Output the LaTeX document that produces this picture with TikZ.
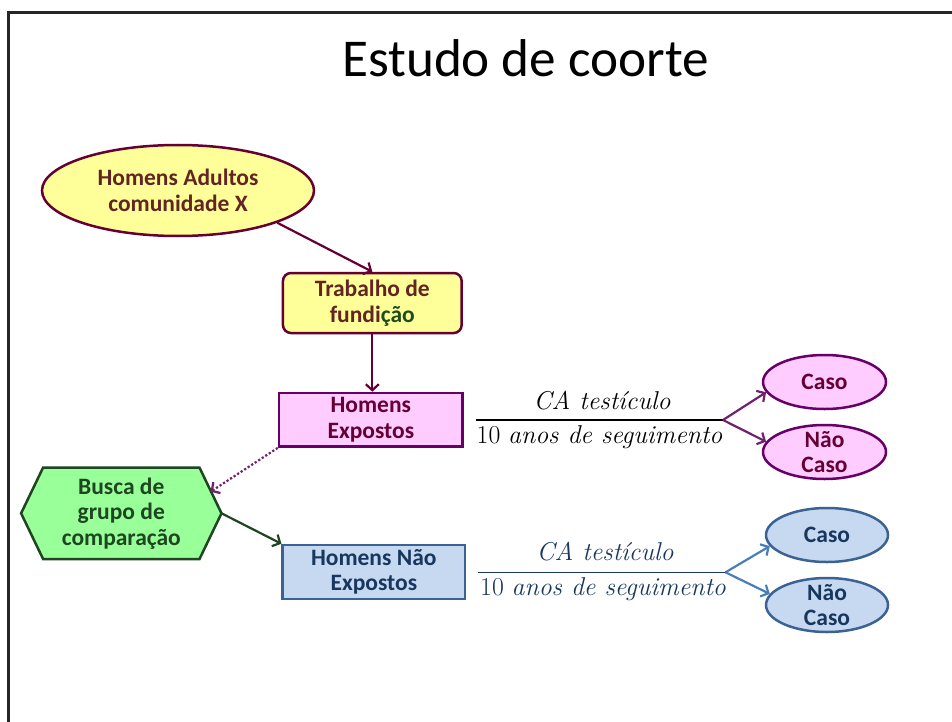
\documentclass[tikz,border=0pt]{standalone}
\usepackage{fontspec}
\setmainfont{Carlito}
\usetikzlibrary{arrows.meta,shapes.geometric}
\pgfdeclarelayer{background}
\pgfsetlayers{background,main}
\definecolor{yel}{HTML}{FFFF99}
\definecolor{maroonB}{HTML}{660033}
\definecolor{maroonT}{HTML}{632523}
\definecolor{dgreen}{HTML}{1E4D1E}
\definecolor{pinkF}{HTML}{FFCCFF}
\definecolor{purpB}{HTML}{660066}
\definecolor{purpA}{HTML}{702070}
\definecolor{greenF}{HTML}{99FF99}
\definecolor{greenB}{HTML}{1E4620}
\definecolor{blueF}{HTML}{C6D9F1}
\definecolor{blueB}{HTML}{3A6394}
\definecolor{blueA}{HTML}{4A7EBB}
\definecolor{navy}{HTML}{17375E}
\tikzset{
  lbl/.style={font=\fontsize{23.5}{25.5}\selectfont\bfseries, align=center, inner sep=0pt},
  ell/.style={lbl, ellipse, draw=maroonB, fill=yel, line width=2.5pt, text=maroonT},
  trabbox/.style={lbl, rectangle, rounded corners=8pt, draw=maroonB, fill=yel, line width=2.5pt, text=maroonT},
  expbox/.style={lbl, rectangle, draw=purpB, fill=pinkF, line width=2.5pt, text=maroonB},
  hexnode/.style={lbl, rectangle, text=greenB},
  hexshape/.style={draw=greenB, fill=greenF, line width=2.5pt, line join=miter},
  nexpbox/.style={lbl, rectangle, draw=blueB, fill=blueF, line width=2.5pt, text=navy},
  cpink/.style={lbl, ellipse, draw=purpB, fill=pinkF, line width=2.5pt, text=maroonB, minimum width=123pt, minimum height=54pt},
  cblue/.style={lbl, ellipse, draw=blueB, fill=blueF, line width=2.5pt, text=navy, minimum width=122pt, minimum height=54pt},
  tight/.style={inner sep=-10pt},
  arr/.style={line width=2.2pt, -{Straight Barb[length=6pt,width=13pt]}},
  frac/.style={font=\fontsize{25.8}{30}\fontfamily{lmr}\selectfont, inner sep=0pt, anchor=base},
}
\begin{document}
\begin{tikzpicture}[x=1pt,y=-1pt]
\useasboundingbox (0,0) rectangle (952,722);
\begin{pgfonlayer}{background}
\fill[white] (0,0) rectangle (952,722);
\end{pgfonlayer}
\draw[line width=2.5pt, black!85] (952,12.5) -- (8.5,12.5) -- (8.5,722);

\node[font=\fontsize{53.2}{60}\selectfont, anchor=base, inner sep=0pt] (title) at (525.5,77) {Estudo de coorte};

\node[ell, minimum width=272pt, minimum height=91pt] (adult) at (178,190.5) {Homens Adultos\\comunidade X};
\node[trabbox, minimum width=178.7pt, minimum height=60pt] (trab) at (372.3,303) {Trabalho de\\fundi\textcolor{dgreen}{ção}};
\node[expbox, minimum width=183.7pt, minimum height=53.7pt] (exp) at (370.8,419.8) {Homens\\Expostos};
\node[hexnode, minimum width=156pt, minimum height=91pt] (hex) at (121.3,513.3) {Busca de\\grupo de\\comparação};
\coordinate (hexE) at ([xshift=22pt]hex.east);
\coordinate (hexW) at ([xshift=-22pt]hex.west);
\begin{pgfonlayer}{background}
\draw[hexshape] (hex.north west) -- (hex.north east) -- (hexE) -- (hex.south east) -- (hex.south west) -- (hexW) -- cycle;
\end{pgfonlayer}
\node[nexpbox, minimum width=182.3pt, minimum height=54pt] (nexp) at (373.8,572) {Homens Não\\Expostos};

\node[cpink] (caso1) at (824.5,382) {Caso};
\node[cpink, tight] (nao1) at (824.5,452) {Não\\Caso};
\node[cblue] (caso2) at (827,535) {Caso};
\node[cblue, tight] (nao2) at (827,605) {Não\\Caso};

% fraction 1
\node[frac] (f1n) at (602,409) {\itshape CA testículo};
\node[frac] (f1d) at (599.5,443) {10 \itshape anos de seguimento};
\coordinate (f1a) at (476,420);
\coordinate (f1b) at (723,420);
\draw[line width=1.4pt, black] (f1a) -- (f1b);
% fraction 2
\node[frac, text=navy] (f2n) at (605,560) {\itshape CA testículo};
\node[frac, text=navy] (f2d) at (603,595) {10 \itshape anos de seguimento};
\coordinate (f2a) at (478,572.3);
\coordinate (f2b) at (725.5,572.3);
\draw[line width=1.4pt, navy] (f2a) -- (f2b);

% connectors
\draw[arr, maroonB] (adult.-18) -- (trab.north);
\draw[arr, maroonB] (trab.south) -- (trab.south |- exp.north);
\draw[arr, purpA, dotted] (exp.south west) -- (210.6,491.7);
\draw[arr, greenB] (hexE) -- (nexp.north west);
\draw[arr, purpA] (f1b) -- (caso1.190);
\draw[arr, purpA] (f1b) -- (nao1.170);
\draw[arr, blueA] (f2b) -- (caso2.191);
\draw[arr, blueA] (f2b) -- (nao2.169);
\end{tikzpicture}
\end{document}
